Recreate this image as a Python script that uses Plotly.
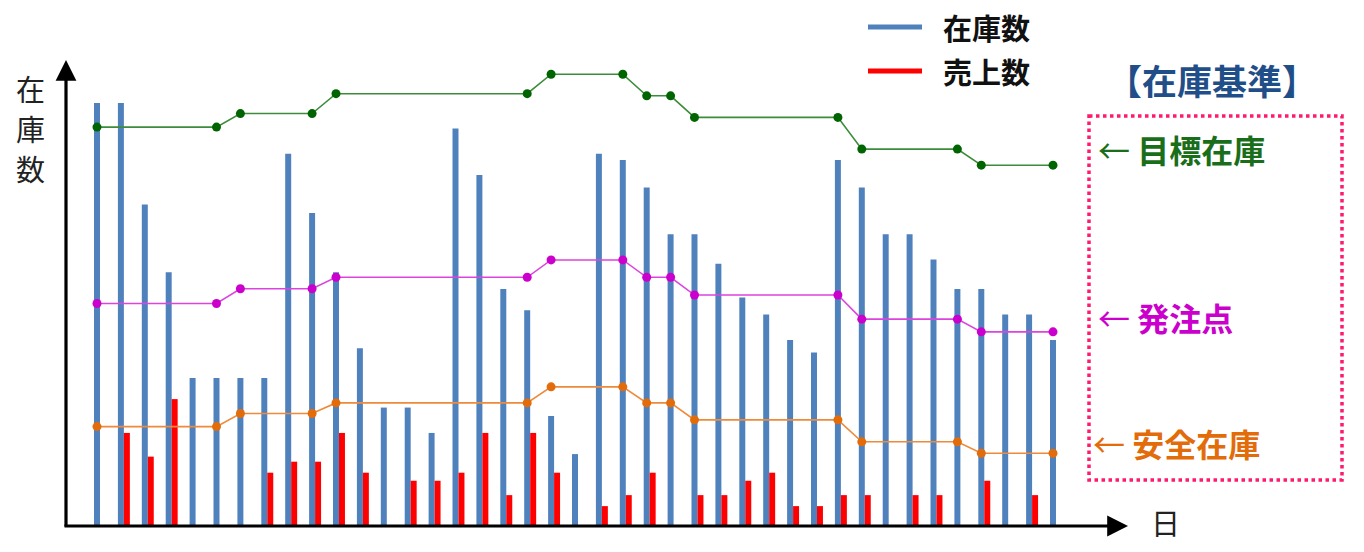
import plotly.graph_objects as go

days = list(range(1, 42))
stock = [100, 100, 76, 60, 35, 35, 35, 35, 88, 74, 60, 42, 28, 28, 22, 94, 83, 56, 51, 26,
         17, 88, 86.5, 80, 69, 69, 62, 54, 50, 44, 41, 86.5, 80, 69, 69, 63, 56, 56, 50, 50, 44]
sales_days = [2, 3, 4, 8, 9, 10, 11, 12, 14, 15, 16, 17, 18, 19, 20, 22, 23, 24, 26, 27, 28, 29,
              30, 31, 32, 33, 35, 36, 38, 40]
sales = [22, 16.4, 30, 12.6, 15.2, 15.2, 22, 12.6, 10.7, 10.7, 12.6, 22, 7.3, 22, 12.6, 4.7, 7.3,
         12.6, 7.3, 7.3, 10.7, 12.6, 4.7, 4.7, 7.3, 7.3, 7.3, 7.3, 10.7, 7.3]

level_days = [1, 6, 7, 10, 11, 19, 20, 23, 24, 25, 26, 32, 33, 37, 38, 41]
target = [94.3, 94.3, 97.5, 97.5, 102.2, 102.2, 106.8, 106.8, 101.7, 101.7, 96.6, 96.6, 89.1, 89.1, 85.3, 85.3]
reorder = [52.6, 52.6, 56.1, 56.1, 58.8, 58.8, 62.9, 62.9, 58.8, 58.8, 54.6, 54.6, 48.9, 48.9, 45.9, 45.9]
safety = [23.5, 23.5, 26.6, 26.6, 29.1, 29.1, 32.9, 32.9, 29.1, 29.1, 25.1, 25.1, 19.9, 19.9, 17.2, 17.2]

legend_names = ["在庫数", "売上数"]
level_names = ["目標在庫", "発注点", "安全在庫"]
y_title_chars = ["在", "庫", "数"]

BLUE = "#4f81bd"
RED = "#ff0000"
FONT = "Noto Sans CJK JP"

fig = go.Figure()
fig.add_trace(go.Bar(x=days, y=stock, width=0.25, offset=-0.125, marker_color=BLUE,
                     marker_line_width=0, name=legend_names[0]))
fig.add_trace(go.Bar(x=sales_days, y=sales, width=0.25, offset=0.125, marker_color=RED,
                     marker_line_width=0, name=legend_names[1]))

line_styles = [("#3c8c3c", "#006400", target), ("#dd44dd", "#cc00cc", reorder), ("#ee8a3a", "#e36c0a", safety)]
for (lc, mc, vals), nm in zip(line_styles, level_names):
    fig.add_trace(go.Scatter(x=level_days, y=vals, mode="lines+markers", name=nm,
                             line=dict(color=lc, width=1.6),
                             marker=dict(color=mc, size=9)))

L, R, T, B = 66, 1128, 60, 526
W, H = R - L, B - T
px_per_day = 23.9
x0 = 1 - (97 - L) / px_per_day
ymax = H / 4.23


def px(x):
    return (x - L) / W


def py(y):
    return (B - y) / H


def txt(x, y, text, size, color, xanchor="center"):
    return dict(x=px(x), y=py(y), xref="paper", yref="paper", xanchor=xanchor, yanchor="middle",
                text=text, showarrow=False, font=dict(family=FONT, size=size, color=color))


anns = []
# axes arrows
anns.append(dict(x=1, y=0, xref="paper", yref="paper", ax=-(W + 3), ay=0, text="", showarrow=True,
                 arrowhead=2, arrowsize=1.3, arrowwidth=3.2, arrowcolor="black"))
anns.append(dict(x=0, y=1, xref="paper", yref="paper", ax=0, ay=H + 2, text="", showarrow=True,
                 arrowhead=2, arrowsize=1.3, arrowwidth=3.2, arrowcolor="black"))
# axis labels (vertical, one char per line)
for ch, yc in zip(y_title_chars, [88, 128, 168]):
    anns.append(txt(30, yc, ch, 29, "#222"))
anns.append(txt(1165, 522, "日", 29, "#222"))
# legend text
anns.append(txt(941, 27, "<b>%s</b>" % legend_names[0], 29, "#111", "left"))
anns.append(txt(941, 71, "<b>%s</b>" % legend_names[1], 29, "#111", "left"))
anns.append(txt(1212, 80, "<b>【在庫基準】</b>", 35, "#1f4e89"))
# right annotations
for nm, col, ycen, xl in zip(level_names, ["#1a6e1a", "#cc00cc", "#e36c0a"], [149, 317, 443], [1096, 1096, 1091]):
    anns.append(txt(xl, ycen, "← <b>%s</b>" % nm, 32, col, "left"))

shapes = [
    dict(type="line", xref="paper", yref="paper", x0=px(868), x1=px(922), y0=py(27), y1=py(27),
         line=dict(color=BLUE, width=5)),
    dict(type="line", xref="paper", yref="paper", x0=px(868), x1=px(922), y0=py(71), y1=py(71),
         line=dict(color=RED, width=5)),
    dict(type="rect", xref="paper", yref="paper", x0=px(1089), x1=px(1342), y0=py(116), y1=py(480),
         line=dict(color="#ff1a6e", width=3.5, dash="dot")),
]

fig.update_layout(
    width=1364, height=552,
    margin=dict(l=L, r=1364 - R, t=T, b=552 - B, pad=0),
    paper_bgcolor="white", plot_bgcolor="white",
    barmode="overlay", showlegend=False,
    xaxis=dict(range=[x0, x0 + W / px_per_day], visible=False, fixedrange=True),
    yaxis=dict(range=[0, ymax], visible=False, fixedrange=True),
    annotations=anns, shapes=shapes,
    font=dict(family=FONT),
)

fig.write_html("out.html", config={"displayModeBar": False})
